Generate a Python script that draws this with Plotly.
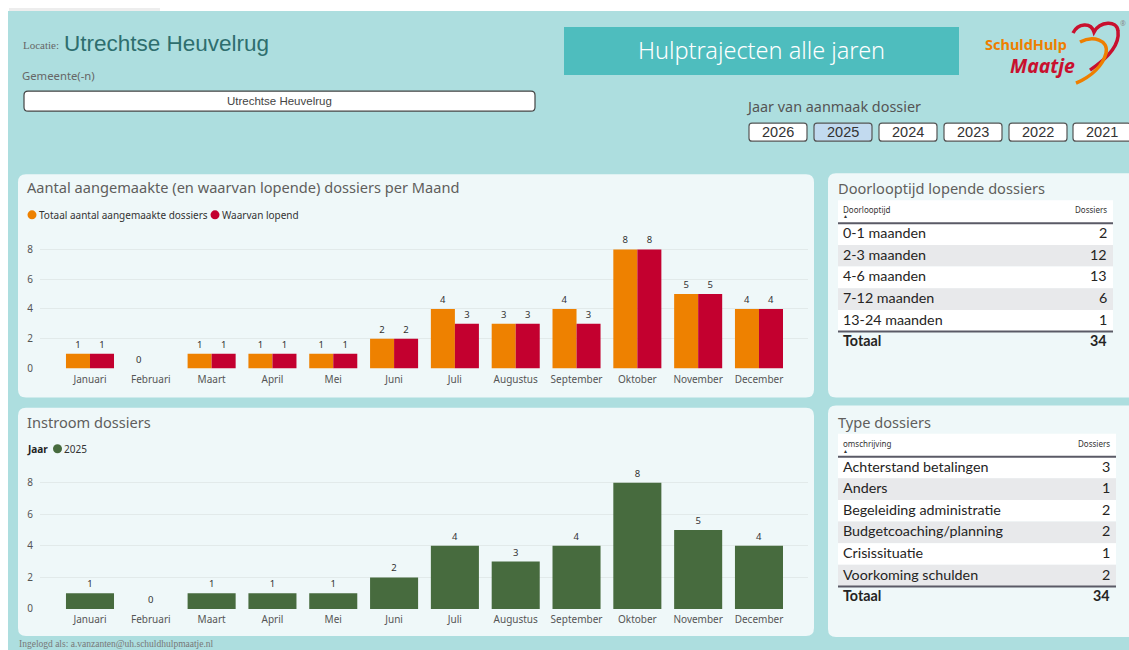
import plotly.graph_objects as go

W, H = 1129, 650          # target picture size (coordinates below are in these pixels)
FIG_H = 658               # page capture squeezes height slightly; compensate

# ---------------- data ----------------
months = ["Januari", "Februari", "Maart", "April", "Mei", "Juni", "Juli",
          "Augustus", "September", "Oktober", "November", "December"]
totaal_aangemaakt = [1, 0, 1, 1, 1, 2, 4, 3, 4, 8, 5, 4]
waarvan_lopend = [1, 0, 1, 1, 1, 2, 3, 3, 3, 8, 5, 4]
instroom_2025 = [1, 0, 1, 1, 1, 2, 4, 3, 4, 8, 5, 4]
y_ticks = [0, 2, 4, 6, 8]

doorloop_cat = ["0-1 maanden", "2-3 maanden", "4-6 maanden", "7-12 maanden", "13-24 maanden"]
doorloop_val = [2, 12, 13, 6, 1]
doorloop_totaal = 34

type_cat = ["Achterstand betalingen", "Anders", "Begeleiding administratie",
            "Budgetcoaching/planning", "Crisissituatie", "Voorkoming schulden"]
type_val = [3, 1, 2, 2, 1, 2]
type_totaal = 34

years = ["2026", "2025", "2024", "2023", "2022", "2021"]
selected_year = "2025"

# ---------------- helpers ----------------
SEG = "Noto Sans"
TBL = "Lato"
ARIAL = "Liberation Sans"
SERIF = "Liberation Serif"

def fx(x):
    return x / W

def fy(y):
    return 1 - y / H

shapes = []
annotations = []

def rect(x0, y0, x1, y1, fill, line=None, lw=0, layer="below"):
    shapes.append(dict(type="rect", xref="paper", yref="paper",
                       x0=fx(x0), x1=fx(x1), y0=fy(y1), y1=fy(y0),
                       fillcolor=fill, line=dict(color=line or fill, width=lw),
                       layer=layer))

def rrect(x0, y0, x1, y1, r, fill, line=None, lw=0, layer="below"):
    def p(x, y):
        return f"{fx(x):.6f},{fy(y):.6f}"
    path = (f"M{p(x0 + r, y0)} L{p(x1 - r, y0)} Q{p(x1, y0)} {p(x1, y0 + r)} "
            f"L{p(x1, y1 - r)} Q{p(x1, y1)} {p(x1 - r, y1)} L{p(x0 + r, y1)} "
            f"Q{p(x0, y1)} {p(x0, y1 - r)} L{p(x0, y0 + r)} Q{p(x0, y0)} {p(x0 + r, y0)} Z")
    shapes.append(dict(type="path", xref="paper", yref="paper", path=path,
                       fillcolor=fill, line=dict(color=line or fill, width=lw),
                       layer=layer))

def hline(x0, x1, y, color, lw):
    shapes.append(dict(type="line", xref="paper", yref="paper",
                       x0=fx(x0), x1=fx(x1), y0=fy(y), y1=fy(y),
                       line=dict(color=color, width=lw), layer="above"))

def circle(cx, cy, r, color):
    shapes.append(dict(type="circle", xref="paper", yref="paper",
                       x0=fx(cx - r), x1=fx(cx + r), y0=fy(cy + r), y1=fy(cy - r),
                       fillcolor=color, line=dict(color=color, width=0), layer="above"))

def curve(pts, color, lw):
    s = ""
    for cmd, coords in pts:
        s += cmd + " ".join(f"{fx(x):.6f},{fy(y):.6f}" for x, y in coords) + " "
    shapes.append(dict(type="path", xref="paper", yref="paper", path=s.strip(),
                       line=dict(color=color, width=lw), layer="above"))

def ann(text, x, y, size, color, family=SEG, xanchor="left", yanchor="middle",
        weight=None, align="left"):
    f = dict(size=size, color=color, family=family)
    if weight:
        f["weight"] = weight
    annotations.append(dict(text=text, x=fx(x), y=fy(y), xref="paper", yref="paper",
                            xanchor=xanchor, yanchor=yanchor, showarrow=False,
                            font=f, align=align, borderpad=0))

# ---------------- background pieces ----------------
rect(0, 0, W, 11, "#FFFFFF")
rect(0, 0, 8, H, "#FFFFFF")
rect(9, 8, 160, 11, "#EDEDED")

PANEL = "#EFF8F9"
rrect(18, 174, 814, 397, 8, PANEL)
rrect(18, 407, 814, 635, 8, PANEL)
rrect(828, 173, 1140, 397, 8, PANEL)
rrect(828, 405, 1140, 636, 8, PANEL)

# ---------------- header ----------------
ann("Locatie:", 22, 45, 11, "#666666", SERIF)
ann("Utrechtse Heuvelrug", 63, 43, 22.5, "#2E6E6E", ARIAL)
ann("Gemeente(-n)", 21, 75, 11.3, "#666666", SEG)
rrect(24, 91, 535, 111, 4, "#FFFFFF", "#444444", 1.2, layer="above")
ann("Utrechtse Heuvelrug", 279, 101, 11.5, "#444444", ARIAL, xanchor="center")

rect(564, 27, 959, 75, "#4EBDBE")
ann("Hulptrajecten alle jaren", 761, 50, 23.5, "#FFFFFF", SEG, xanchor="center", weight=300)

ann("Jaar van aanmaak dossier", 745, 106, 14.4, "#555555", SEG)
bx = [749, 814, 879, 944, 1009, 1073]
for x0, yr in zip(bx, years):
    fill = "#C2DAEF" if yr == selected_year else "#FFFFFF"
    rrect(x0, 123, x0 + 58, 141, 3, fill, "#555555", 1.2, layer="above")
    ann(yr, x0 + 29, 132, 14.5, "#333333", ARIAL, xanchor="center")

# logo
ann("<b>SchuldHulp</b>", 984, 44, 14.5, "#EE7F00", SEG)
ann("<b><i>Maatje</i></b>", 1009, 65, 19.5, "#C8102E", SEG)
ann("®", 1123, 23, 7, "#888888", SEG, xanchor="center")
curve([("M", [(1073, 33)]), ("C", [(1078, 23), (1091, 22), (1094, 32)]),
       ("C", [(1100, 21), (1117, 20), (1118, 31)]),
       ("C", [(1120, 46), (1105, 60), (1090, 70)])], "#C8102E", 3.5)
curve([("M", [(1080, 42)]), ("C", [(1093, 35), (1109, 40), (1106, 53)]),
       ("C", [(1103, 65), (1092, 76), (1076, 83)])], "#EE7F00", 3.5)

ann("Ingelogd als: a.vanzanten@uh.schuldhulpmaatje.nl", 18, 643, 9.5, "#777777", SERIF)

# ---------------- chart titles & legends ----------------
TITLE_C = "#605E5C"
ann("Aantal aangemaakte (en waarvan lopende) dossiers per Maand", 26, 187, 14.6, TITLE_C)
circle(32, 214.5, 4.5, "#EE8100")
ann("Totaal aantal aangemaakte dossiers", 37.5, 214.5, 10, "#333333")
circle(215, 214.5, 4.5, "#C3002F")
ann("Waarvan lopend", 220.5, 214.5, 10, "#333333")

ann("Instroom dossiers", 26, 421, 14.6, TITLE_C)
ann("<b>Jaar</b>", 26, 448, 10, "#222222")
circle(57.5, 448, 4.5, "#476B3E")
ann("2025", 62.5, 448, 10, "#333333")

# ---------------- tables ----------------
ROW_C = "#252423"
GRAY = "#E8E9EB"
LINE_C = "#5A5A66"

def table(title, title_y, head_left, head_y, line_y, cats, vals, total, x0, x1, rh):
    ann(title, 837, title_y, 14.6, TITLE_C)
    rect(x0, line_y - 23, x1, line_y, "#FFFFFF")
    ann(head_left, 842, head_y, 8, "#333333")
    ann("▲", 842, head_y + 7, 5, "#333333")
    ann("Dossiers", x1 - 5, head_y, 8, "#333333", xanchor="right")
    top = line_y
    for i, (c, v) in enumerate(zip(cats, vals)):
        rect(x0, top + i * rh, x1, top + (i + 1) * rh, GRAY if i % 2 else "#FFFFFF")
        cy = top + (i + 0.5) * rh - 1.5
        ann(c, 842, cy, 14.3, ROW_C, TBL)
        ann(str(v), x1 - 5, cy, 14.3, ROW_C, TBL, xanchor="right")
    bottom = top + len(cats) * rh
    hline(x0, x1, line_y, LINE_C, 2)
    hline(x0, x1, bottom, LINE_C, 2)
    ann("Totaal", 842, bottom + 9, 14.3, ROW_C, TBL, weight=700)
    ann(str(total), x1 - 5, bottom + 9, 14.3, ROW_C, TBL, xanchor="right", weight=700)

table("Doorlooptijd lopende dossiers", 188, "Doorlooptijd", 209, 223,
      doorloop_cat, doorloop_val, doorloop_totaal, 838, 1113, 21.6)
table("Type dossiers", 421, "omschrijving", 443, 456,
      type_cat, type_val, type_totaal, 838, 1116, 21.6)

# ---------------- bar charts ----------------
fig = go.Figure()
label_font = dict(size=9.5, color="#333333", family=SEG)
fig.add_trace(go.Bar(x=months, y=totaal_aangemaakt, name="Totaal aantal aangemaakte dossiers",
                     marker=dict(color="#EE8100", line=dict(width=0)),
                     text=[str(v) for v in totaal_aangemaakt], textposition="outside",
                     textfont=label_font, cliponaxis=False, showlegend=False,
                     xaxis="x", yaxis="y"))
fig.add_trace(go.Bar(x=months, y=waarvan_lopend, name="Waarvan lopend",
                     marker=dict(color="#C3002F", line=dict(width=0)),
                     text=[str(v) if v else "" for v in waarvan_lopend], textposition="outside",
                     textfont=label_font, cliponaxis=False, showlegend=False,
                     xaxis="x", yaxis="y"))
fig.add_trace(go.Bar(x=months, y=instroom_2025, name="2025",
                     marker=dict(color="#476B3E", line=dict(width=0)),
                     text=[str(v) for v in instroom_2025], textposition="outside",
                     textfont=label_font, cliponaxis=False, showlegend=False,
                     xaxis="x2", yaxis="y2"))

xdom = [fx(40), fx(808)]
xrange = [-0.822, 11.806]
tickf = dict(size=10, color="#555555", family=SEG)
gridc = "#E2EAEA"

fig.update_layout(
    width=W, height=FIG_H, margin=dict(l=0, r=0, t=0, b=0),
    paper_bgcolor="#ADDEDF", plot_bgcolor="rgba(0,0,0,0)",
    barmode="group", bargap=0.21, bargroupgap=0,
    showlegend=False,
    xaxis=dict(domain=xdom, anchor="y", range=xrange, showgrid=False, zeroline=False,
               showline=False, ticks="", tickfont=tickf, ticklabelstandoff=3),
    yaxis=dict(domain=[fy(368), fy(235)], anchor="x", range=[0, 8 * (368 - 235) / 119],
               tickvals=y_ticks, gridcolor=gridc, gridwidth=1, zeroline=False,
               showline=False, ticks="", tickfont=tickf, ticklabelstandoff=6),
    xaxis2=dict(domain=xdom, anchor="y2", range=xrange, showgrid=False, zeroline=False,
                showline=False, ticks="", tickfont=tickf, ticklabelstandoff=3),
    yaxis2=dict(domain=[fy(608), fy(470)], anchor="x2", range=[0, 8 * (608 - 470) / 126],
                tickvals=y_ticks, gridcolor=gridc, gridwidth=1, zeroline=False,
                showline=False, ticks="", tickfont=tickf, ticklabelstandoff=6),
    shapes=shapes, annotations=annotations,
)

fig.write_html("out.html", config={"displayModeBar": False},
               post_script="document.body.style.margin='0';document.body.style.overflow='hidden';")
